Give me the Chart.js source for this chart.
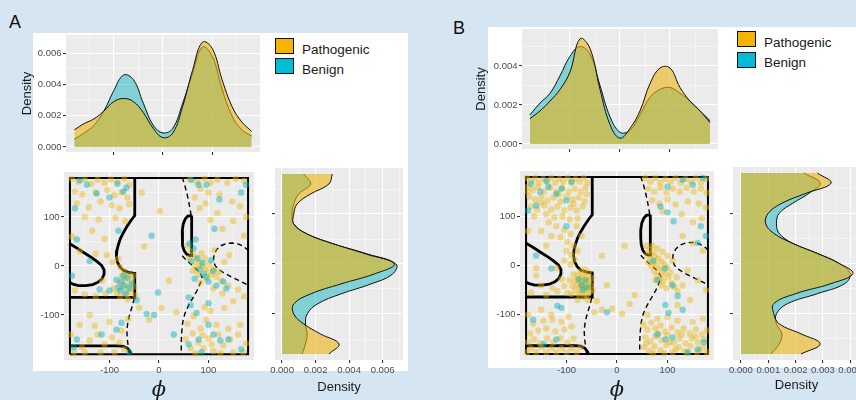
<!DOCTYPE html>
<html lang="en">
<head>
<meta charset="UTF-8">
<title>Phi / psi densities</title>
<script src="https://cdn.jsdelivr.net/npm/chart.js"></script>
<style>
    body {
        margin: 0;
        width: 856px;
        height: 400px;
        overflow: hidden;
        position: relative;
        background: #d5e5f2;
        font-family: "Liberation Sans", Arial, sans-serif;
    }
    .box { position: absolute; background: #fff; }
    canvas { position: absolute; }
    .letter { position: absolute; font-size: 18px; line-height: 18px; color: #111; }
    .key { position: absolute; width: 17px; height: 14px; border: 1.5px solid #111; }
    .lbl { position: absolute; font-size: 13.5px; line-height: 16px; color: #1a1a1a; }
</style>
</head>
<body>
    <div class="box" style="left:33px;top:33px;width:375px;height:338px"></div>
    <div class="box" style="left:488px;top:27px;width:368px;height:341px"></div>

    <div class="letter" style="left:9px;top:13px">A</div>
    <div class="letter" style="left:453px;top:19px">B</div>

    <div class="key" style="left:275px;top:38px;background:#f4b400"></div>
    <div class="key" style="left:275px;top:58px;background:#00bcd4"></div>
    <div class="lbl" style="left:302px;top:42px">Pathogenic</div>
    <div class="lbl" style="left:302px;top:62px">Benign</div>

    <div class="key" style="left:737px;top:31px;background:#f4b400"></div>
    <div class="key" style="left:737px;top:52px;background:#00bcd4"></div>
    <div class="lbl" style="left:764px;top:35px">Pathogenic</div>
    <div class="lbl" style="left:764px;top:55px">Benign</div>

    <canvas id="aTop" width="240" height="123" style="left:20px;top:35px"></canvas>
    <canvas id="aScatter" width="224" height="235" style="left:34px;top:168px"></canvas>
    <canvas id="aRight" width="133" height="227" style="left:270px;top:168px"></canvas>
    <canvas id="bTop" width="244" height="126" style="left:474px;top:29px"></canvas>
    <canvas id="bScatter" width="228" height="236" style="left:490px;top:167px"></canvas>
    <canvas id="bRight" width="132" height="226" style="left:728px;top:167px"></canvas>

<script>
// angle grid the density curves were read at (degrees)
const phiGrid = [-180, -160, -140, -120, -100, -80, -60, -40, -20, 0, 20, 40, 60, 80, 100, 120, 140, 160, 180];
const psiGrid = [-180, -160, -140, -120, -100, -80, -60, -40, -20, 0, 20, 40, 60, 80, 100, 120, 140, 160, 180];

// panel A densities
const aPhiPatho  = [0.0011, 0.0015, 0.0018, 0.0023, 0.0029, 0.0031, 0.0029, 0.0022, 0.0012, 0.0006, 0.0009, 0.0026, 0.0049, 0.0067, 0.0063, 0.0043, 0.0026, 0.0016, 0.0010];
const aPhiBenign = [0.0005, 0.0009, 0.0014, 0.0023, 0.0036, 0.0046, 0.0043, 0.0028, 0.0014, 0.0009, 0.0012, 0.0028, 0.0047, 0.0064, 0.0058, 0.0037, 0.0020, 0.0011, 0.0007];
const aPsiPatho  = [0.0028, 0.0034, 0.0023, 0.0013, 0.0007, 0.0007, 0.0017, 0.0035, 0.0055, 0.0067, 0.0050, 0.0031, 0.0015, 0.0007, 0.0007, 0.0009, 0.0017, 0.0028, 0.0030];
const aPsiBenign = [0.0012, 0.0014, 0.0015, 0.0014, 0.0015, 0.0021, 0.0035, 0.0053, 0.0066, 0.0068, 0.0051, 0.0031, 0.0015, 0.0007, 0.0006, 0.0007, 0.0010, 0.0017, 0.0013];

// panel B densities
const bPhiPatho  = [0.0013, 0.0017, 0.0022, 0.0028, 0.0037, 0.0054, 0.0049, 0.0028, 0.0010, 0.0003, 0.0008, 0.0017, 0.0031, 0.0039, 0.0039, 0.0029, 0.0022, 0.0017, 0.0011];
const bPhiBenign = [0.0015, 0.0021, 0.0026, 0.0035, 0.0045, 0.0050, 0.0046, 0.0030, 0.0014, 0.0006, 0.0007, 0.0015, 0.0024, 0.0028, 0.0029, 0.0026, 0.0022, 0.0017, 0.0012];
const bPsiPatho  = [0.0022, 0.0029, 0.0022, 0.0014, 0.0012, 0.0012, 0.0020, 0.0033, 0.0041, 0.0036, 0.0028, 0.0019, 0.0012, 0.0009, 0.0010, 0.0015, 0.0024, 0.0033, 0.0028];
const bPsiBenign = [0.0011, 0.0014, 0.0015, 0.0013, 0.0013, 0.0017, 0.0028, 0.0038, 0.0040, 0.0036, 0.0028, 0.0019, 0.0014, 0.0013, 0.0014, 0.0019, 0.0025, 0.0029, 0.0023];

// residues [phi, psi]
const aPathoPts = [
    [-176,178],[-163,172],[-150,177],[-137,168],[-124,176],[-110,170],[-97,177],[-84,172],[-70,178],[-60,166],
    [-170,152],[-155,146],[-128,150],[-104,155],[-90,145],[-76,150],[-64,140],
    [-166,128],[-142,120],[-118,132],[-96,124],[-80,118],[-60,126],[-150,100],[-122,95],[-88,98],[-68,92],[-135,72],
    [-176,60],[-160,30],[-110,55],[-128,25],[-105,22],[-95,8],[-82,15],[-78,-2],[-170,-50],[-150,-58],[-128,-62],[-108,-56],[-92,-46],[-115,-30],
    [-75,-20],[-68,-28],[-60,-18],[-55,-30],[-62,-40],[-72,-45],[-80,-35],[-58,-52],[-66,-58],[-50,-42],[-85,-55],[-70,-10],[-52,-20],[-48,-60],[-63,-68],[-78,-62],
    [2,112],[-30,40],[20,-30],[-40,-85],[5,-86],[-20,-110],[35,-95],[-35,150],
    [58,42],[64,30],[70,22],[76,14],[82,6],[88,0],[94,-6],[100,-12],[106,-18],[72,2],[80,-18],[92,16],[102,4],[110,-6],[116,-22],[76,-8],[86,26],[96,-26],[122,-12],[132,8],[142,22],[112,32],[60,16],[68,-10],[84,-34],[126,-30],
    [62,176],[78,172],[92,178],[104,170],[118,176],[138,170],[155,178],[172,174],[84,158],[100,150],[122,146],[148,132],[164,122],[176,100],[94,128],[72,140],[82,118],[118,108],[150,92],[128,76],[172,62],[104,94],
    [140,-40],[160,-48],[172,-62],[110,-46],[128,-56],[150,-72],[92,-84],[70,-102],[104,-92],[132,-86],
    [58,-118],[68,-138],[84,-128],[100,-148],[120,-140],[140,-128],[160,-140],[176,-158],[90,-168],[110,-174],[64,-168],[80,-156],[130,-162],[150,-176],[170,-176],[96,-110],[116,-120],[54,-150],[74,-178],[106,-160],[144,-150],[164,-120],[124,-178],[88,-142],
    [-172,-176],[-156,-166],[-140,-152],[-124,-140],[-110,-160],[-95,-146],[-80,-156],[-70,-170],[-90,-176],[-160,-120],[-130,-122],[-100,-114],[-76,-132],[-62,-108],[-150,-176],[-118,-176],[-178,-140],[-140,-100]
];
const aBenignPts = [
    [-146,166],[-126,148],[-72,152],[-66,160],[-170,118],[-100,140],[-160,175],[-84,168],
    [-166,54],[-82,72],[-140,10],[-176,-20],[-120,-48],[-100,-50],
    [-86,-28],[-76,-32],[-70,-40],[-64,-24],[-60,-46],[-78,-50],[-55,-36],[-68,-56],[-72,-20],[-82,-44],
    [-15,62],[-2,-54],[-25,-98],[-10,-100],[-45,-70],[30,-140],
    [62,46],[70,36],[78,16],[82,-6],[90,-16],[95,-22],[88,6],[72,-26],[100,-32],[110,-10],[65,10],[105,12],[130,-32],[74,54],
    [66,176],[80,166],[96,166],[122,136],[176,166],[112,76],[166,150],
    [116,-40],[136,-46],[100,-76],[64,-80],[76,-96],[60,-64],
    [100,-120],[110,-140],[140,-150],[80,-150],[60,-160],[166,-170],[86,-176],[124,-152],
    [-166,-150],[-116,-140],[-86,-130],[-172,-166],[-60,-176],[-76,-116]
];
const bPathoPts = [
    [-178,178],[-170,172],[-162,178],[-155,168],[-146,176],[-138,170],[-130,178],[-122,168],[-114,176],[-106,170],[-98,178],[-90,168],[-82,176],[-74,170],[-66,178],[-58,168],
    [-176,160],[-166,154],[-156,160],[-144,150],[-132,158],[-120,150],[-108,158],[-96,150],[-84,156],[-72,150],[-62,158],
    [-174,140],[-162,134],[-150,140],[-138,132],[-126,138],[-112,130],[-100,140],[-88,134],[-76,138],[-64,130],
    [-170,120],[-158,114],[-144,122],[-130,114],[-118,120],[-104,112],[-92,118],[-80,112],[-68,120],
    [-164,100],[-140,104],[-124,98],[-108,100],[-94,94],[-78,96],[-176,150],[-150,128],[-115,145],[-86,125],[-60,145],[-135,88],
    [-120,80],[-104,72],[-92,64],[-112,58],[-98,48],[-86,40],[-130,60],[-150,70],[-80,80],[-100,30],[-90,22],[-84,12],[-92,2],[-104,10],[-140,40],[-176,70],[-160,-5],[-120,-5],[-78,30],[-70,60],
    [-78,-20],[-72,-26],[-66,-18],[-60,-24],[-56,-32],[-62,-36],[-68,-40],[-74,-44],[-80,-38],[-84,-30],[-58,-46],[-64,-50],[-70,-54],[-76,-58],[-52,-40],[-54,-54],
    [-60,-60],[-66,-64],[-82,-50],[-88,-42],[-50,-26],[-72,-12],[-64,-8],[-86,-18],[-56,-14],[-90,-58],[-48,-50],[-58,-70],[-78,-70],[-68,-30],[-62,-44],[-74,-34],
    [-104,-42],[-118,-52],[-98,-56],[-128,-46],[-140,-60],[-110,-28],[-150,-40],[-170,-55],[-95,-30],[-160,-20],
    [-40,-72],[-30,-90],[-10,-88],[10,-98],[25,-78],[-45,-95],[35,-60],[-20,-40],[-30,20],[15,40],
    [58,40],[64,32],[70,26],[76,20],[82,14],[88,8],[94,2],[100,-4],[66,14],[72,6],[78,0],[84,-6],[90,-12],[96,-18],[60,22],[68,-2],[74,-12],[80,-20],
    [86,-26],[92,-32],[102,-24],[108,-36],[114,-44],[120,-52],[70,40],[80,34],[90,28],[100,20],[110,10],[62,6],[98,-46],[106,-14],[118,-24],[130,-40],[76,-30],[88,-40],
    [56,178],[66,170],[76,178],[86,168],[96,176],[106,170],[116,178],[126,168],[136,176],[146,170],[156,178],[166,168],[176,176],
    [62,156],[74,150],[86,158],[98,148],[110,156],[124,150],[138,158],[152,150],[166,156],[178,148],
    [70,132],[84,126],[100,134],[116,124],[140,130],[162,126],[90,110],[128,104],[176,118],[150,88],[168,96],
    [130,60],[150,45],[170,30],[140,-10],[160,-30],[176,-50],[120,-80],[145,-70],
    [52,-120],[60,-130],[68,-116],[76,-128],[86,-122],[96,-134],[108,-126],[120,-136],[132,-128],[144,-138],[156,-130],[168,-140],[178,-132],
    [56,-146],[66,-154],[76,-144],[88,-152],[100,-142],[112,-156],[124,-148],[136,-158],[148,-148],[160,-156],[172,-150],
    [54,-166],[64,-174],[74,-164],[86,-172],[98,-162],[110,-176],[122,-166],[134,-174],[146,-164],[158,-176],[170,-166],[178,-176],
    [60,-100],[80,-108],[100,-104],[120,-112],[150,-115],[170,-108],[72,-178],[94,-178],[116,-170],[140,-178],[164,-172],[58,-158],[82,-138],[104,-156],[128,-140],[154,-144],
    [-178,-176],[-170,-168],[-160,-176],[-150,-166],[-140,-176],[-130,-168],[-120,-176],[-110,-168],[-100,-176],[-90,-168],[-80,-176],[-72,-166],
    [-176,-156],[-164,-150],[-152,-158],[-138,-148],[-126,-156],[-112,-148],[-98,-156],[-86,-148],
    [-172,-138],[-156,-132],[-140,-128],[-122,-134],[-104,-130],[-90,-124],
    [-166,-118],[-146,-112],[-128,-110],[-110,-114],[-96,-104],[-150,-90],[-130,-100],[-176,-100]
];
const bBenignPts = [
    [-170,166],[-152,150],[-136,160],[-120,146],[-110,156],[-160,122],[-100,132],[-176,112],[-140,172],[-90,170],
    [-100,80],[-130,-6],[-160,20],[-118,-82],[-110,-86],[-166,-110],
    [-70,-40],[-62,-30],[-68,-50],[-58,-44],[-76,-28],[-20,-95],
    [80,-30],[95,-6],[110,-40],[120,-62],[72,10],
    [100,160],[130,174],[150,164],[170,178],[86,120],[100,108],[112,90],[166,80],[176,60],[160,46],
    [96,-80],[102,-96],[130,-90],
    [80,-140],[96,-150],[110,-146],[160,-170],[172,-156],[140,-176],[-145,-160],[-120,-150]
];

// Ramachandran region outlines [phi, psi]
const frame = [[-180,-180],[-180,180],[180,180],[180,-180],[-180,-180]];
const solidOutlines = [
    [[-49,181],[-49,103],[-56,94],[-64,82],[-72,68],[-78,56],[-82,44],[-85,32],[-86,20],[-84,8],[-79,-2],[-72,-9],[-62,-13],[-49,-15],[-49,-64],[-181,-64]],
    [[-181,46],[-165,36],[-150,26],[-136,17],[-125,9],[-116,1],[-111,-8],[-111,-17],[-115,-26],[-123,-33],[-134,-38],[-148,-40],[-163,-40],[-174,-37],[-181,-33]],
    [[-181,-163],[-82,-163],[-72,-164],[-64,-168],[-59,-174],[-56,-181]],
    [[66,103],[58,102],[53,96],[49,86],[47,72],[47,56],[48,42],[51,31],[56,24],[62,21],[66,21],[66,103]]
];
const dashedOutlines = [
    [[47,181],[52,165],[56,150],[60,132],[63,115],[65,103]],
    [[47,21],[55,12],[64,4],[73,-4],[81,-12],[87,-22],[84,-34],[77,-50],[68,-66],[59,-82],[52,-98],[48,-115],[46,-135],[45,-155],[45,-181]],
    [[181,31],[171,40],[160,45],[148,47],[136,46],[124,41],[116,33],[111,22],[110,10],[114,0],[122,-8],[133,-15],[146,-22],[160,-29],[172,-35],[181,-40]],
    [[-50,-66],[-54,-82],[-59,-98],[-63,-115],[-65,-132],[-64,-150],[-62,-166],[-60,-181]]
];

// tick marks
const angleMajor = [-100, 0, 100];
const angleMinor = [-150, -50, 50, 150];
const densMajorA = [0, 0.002, 0.004, 0.006];
const densMinorA = [0.001, 0.003, 0.005, 0.007];
const densMajorB = [0, 0.002, 0.004];
const densMinorB = [0.001, 0.003, 0.005];
const densMajorBR = [0, 0.001, 0.002, 0.003, 0.004];
const densMinorBR = [0.0005, 0.0015, 0.0025, 0.0035];

const pathoFill = 'rgba(235,180,20,0.6)';
const benignFill = 'rgba(0,175,187,0.45)';
const pathoDot = 'rgba(235,184,20,0.45)';
const benignDot = 'rgba(0,175,187,0.45)';

Chart.defaults.font.family = '"Liberation Sans", Arial, sans-serif';

const panelBg = {
    id: 'panelBg',
    beforeDraw(chart) {
        const a = chart.chartArea;
        const ctx = chart.ctx;
        ctx.save();
        ctx.fillStyle = '#ebebeb';
        ctx.fillRect(a.left, a.top, a.right - a.left, a.bottom - a.top);
        ctx.restore();
    }
};

const fmtDens = v => v.toFixed(3);
const fmtAngle = v => String(v);
const densTitle = { text: 'Density', font: { size: 13 } };
const phiTitle = { text: '\u03d5', font: { family: '"DejaVu Serif", serif', style: 'italic', size: 21 } };

function axis(min, max, major, minor, size, fmt, title) {
    const all = major.concat(minor).sort((a, b) => a - b);
    const isMajor = c => c.tick && major.includes(c.tick.value);
    return {
        type: 'linear',
        min: min,
        max: max,
        afterBuildTicks: s => { s.ticks = all.map(v => ({ value: v })); },
        afterFit: s => {
            if (s.isHorizontal()) { s.height = size; s.paddingLeft = 0; s.paddingRight = 0; }
            else { s.width = size; s.paddingTop = 0; s.paddingBottom = 0; }
        },
        border: { display: false },
        grid: {
            color: c => isMajor(c) ? '#ffffff' : 'rgba(255,255,255,0.8)',
            lineWidth: c => isMajor(c) ? 1.1 : 0.55,
            tickColor: c => isMajor(c) ? '#333333' : 'rgba(0,0,0,0)',
            tickLength: 3
        },
        ticks: {
            autoSkip: false, maxRotation: 0, minRotation: 0, padding: 1.5,
            color: '#4d4d4d', font: { size: 9.5 },
            callback: v => (fmt && major.includes(v)) ? fmt(v) : ''
        },
        title: title
            ? { display: true, text: title.text, padding: 0, color: '#1a1a1a', font: title.font }
            : { display: false }
    };
}

function baseOptions(scales, extra) {
    return Object.assign({
        responsive: false,
        animation: false,
        events: [],
        layout: { padding: 0 },
        plugins: { legend: { display: false }, tooltip: { enabled: false } },
        scales: scales
    }, extra || {});
}

function densityLine(label, values, fill, across) {
    return {
        label: label,
        data: across
            ? phiGrid.map((p, i) => ({ x: p, y: values[i] }))
            : psiGrid.map((p, i) => ({ x: values[i], y: p })),
        borderColor: '#111',
        borderWidth: 1,
        backgroundColor: fill,
        fill: 'origin',
        pointRadius: 0,
        tension: 0.4
    };
}

function topDensity(id, patho, benign, yMin, yMax, xMin, xMax, major, minor, ySize) {
    new Chart(document.getElementById(id), {
        type: 'line',
        data: { datasets: [densityLine('Pathogenic', patho, pathoFill, true), densityLine('Benign', benign, benignFill, true)] },
        options: baseOptions({
            x: axis(xMin, xMax, angleMajor, angleMinor, 6, null, null),
            y: axis(yMin, yMax, major, minor, ySize, fmtDens, densTitle)
        }),
        plugins: [panelBg]
    });
}

function rightDensity(id, patho, benign, xMin, xMax, major, minor, xSize) {
    new Chart(document.getElementById(id), {
        type: 'line',
        data: { datasets: [densityLine('Pathogenic', patho, pathoFill, false), densityLine('Benign', benign, benignFill, false)] },
        options: baseOptions({
            x: axis(xMin, xMax, major, minor, xSize, fmtDens, densTitle),
            y: axis(-192, 192, angleMajor, angleMinor, 5, null, null)
        }, { indexAxis: 'y' }),
        plugins: [panelBg]
    });
}

function ramachandran(id, patho, benign) {
    const toXY = pts => pts.map(p => ({ x: p[0], y: p[1] }));
    const outline = (pts, width, dash) => ({
        data: toXY(pts), showLine: true, borderColor: '#000', borderWidth: width,
        borderDash: dash, pointRadius: 0, fill: false, tension: 0
    });
    const datasets = [
        { label: 'Benign', data: toXY(benign), backgroundColor: benignDot, borderWidth: 0, pointRadius: 3.2 },
        { label: 'Pathogenic', data: toXY(patho), backgroundColor: pathoDot, borderWidth: 0, pointRadius: 3.2 },
        outline(frame, 2, [])
    ];
    solidOutlines.forEach(o => datasets.push(outline(o, 2.8, [])));
    dashedOutlines.forEach(o => datasets.push(outline(o, 1.4, [5, 3.5])));
    new Chart(document.getElementById(id), {
        type: 'scatter',
        data: { datasets: datasets },
        options: baseOptions({
            x: axis(-192, 192, angleMajor, angleMinor, 43, fmtAngle, phiTitle),
            y: axis(-192, 192, angleMajor, angleMinor, 30, fmtAngle, null)
        }),
        plugins: [panelBg]
    });
}

topDensity('aTop', aPhiPatho, aPhiBenign, -0.00032, 0.00716, -197, 197, densMajorA, densMinorA, 46);
ramachandran('aScatter', aPathoPts, aBenignPts);
rightDensity('aRight', aPsiPatho, aPsiBenign, -0.00042, 0.00722, densMajorA, densMinorA, 35);

topDensity('bTop', bPhiPatho, bPhiBenign, -0.000256, 0.0059, -196, 196, densMajorB, densMinorB, 48);
ramachandran('bScatter', bPathoPts, bBenignPts);
rightDensity('bRight', bPsiPatho, bPsiBenign, -0.000293, 0.00436, densMajorBR, densMinorBR, 33);
</script>
</body>
</html>
